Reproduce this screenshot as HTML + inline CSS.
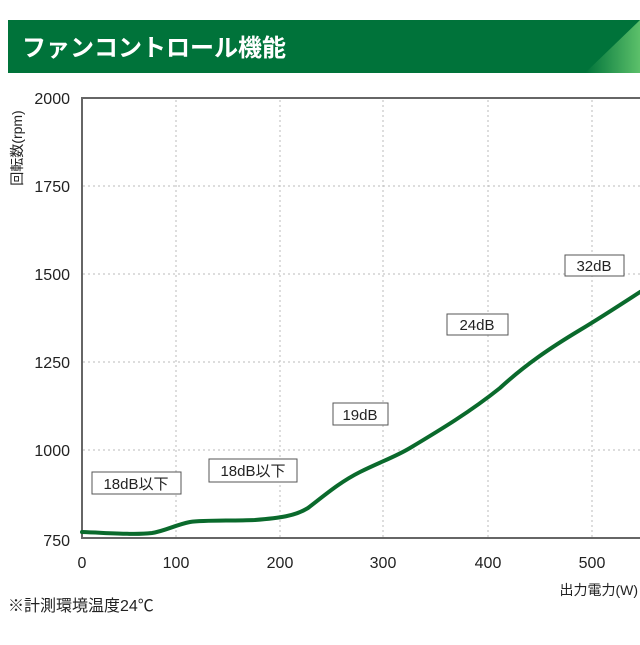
<!DOCTYPE html>
<html><head><meta charset="utf-8"><style>
body{margin:0;background:#fff;width:640px;height:640px;overflow:hidden;font-family:"Liberation Sans","Noto Sans CJK JP",sans-serif}
</style></head><body>
<svg width="640" height="640" viewBox="0 0 640 640" xmlns="http://www.w3.org/2000/svg" font-family="Liberation Sans, Noto Sans CJK JP, sans-serif">
<defs><linearGradient id="g" x1="0" x2="1" y1="0" y2="0"><stop offset="0" stop-color="#00733a"/><stop offset="1" stop-color="#5cc06a"/></linearGradient></defs>
<rect x="8" y="20" width="632" height="53" fill="#00733a"/>
<polygon points="640,20 640,73 585,73" fill="url(#g)"/>
<text x="22" y="56" font-size="24" font-weight="bold" fill="#fff">ファンコントロール機能</text>
<g stroke="#bbb" stroke-width="1" stroke-dasharray="2,3">
<line x1="176" y1="100" x2="176" y2="537"/><line x1="280" y1="100" x2="280" y2="537"/><line x1="383" y1="100" x2="383" y2="537"/><line x1="488" y1="100" x2="488" y2="537"/><line x1="592" y1="100" x2="592" y2="537"/>
<line x1="83" y1="186" x2="640" y2="186"/><line x1="83" y1="274" x2="640" y2="274"/><line x1="83" y1="362" x2="640" y2="362"/><line x1="83" y1="450" x2="640" y2="450"/>
</g>
<polyline points="640,98 82,98 82,538 640,538" fill="none" stroke="#666" stroke-width="2"/>
<g font-size="16" fill="#222" text-anchor="end">
<text x="70" y="104">2000</text><text x="70" y="192">1750</text><text x="70" y="280">1500</text><text x="70" y="368">1250</text><text x="70" y="456">1000</text><text x="70" y="546">750</text>
</g>
<g font-size="16" fill="#222" text-anchor="middle">
<text x="82" y="568">0</text><text x="176" y="568">100</text><text x="280" y="568">200</text><text x="383" y="568">300</text><text x="488" y="568">400</text><text x="592" y="568">500</text>
</g>
<text transform="translate(22,148) rotate(-90)" font-size="14" fill="#222" text-anchor="middle">回転数(rpm)</text>
<text x="638" y="595" font-size="14" fill="#222" text-anchor="end">出力電力(W)</text>
<text x="8" y="611" font-size="16" fill="#222">※計測環境温度24℃</text>
<path d="M82,532 C110,533 135,535 152,533 C165,531 175,525 190,522 C205,520 230,521 255,520 C280,518 295,516 308,508 C325,495 340,482 360,472 C380,462 395,457 410,448 C440,430 470,412 500,388 C525,365 550,348 580,330 C600,318 620,305 640,292" fill="none" stroke="#0a6a2c" stroke-width="4" stroke-linecap="round"/>
<g font-size="15" fill="#222" text-anchor="middle">
<rect x="92" y="472" width="89" height="22" fill="#fff" stroke="#555"/><text x="136" y="489">18dB以下</text>
<rect x="209" y="459" width="88" height="23" fill="#fff" stroke="#555"/><text x="253" y="476">18dB以下</text>
<rect x="333" y="403" width="55" height="22" fill="#fff" stroke="#555"/><text x="360" y="420">19dB</text>
<rect x="447" y="314" width="61" height="21" fill="#fff" stroke="#555"/><text x="477" y="330">24dB</text>
<rect x="565" y="255" width="59" height="21" fill="#fff" stroke="#555"/><text x="594" y="271">32dB</text>
</g>
</svg>
</body></html>
